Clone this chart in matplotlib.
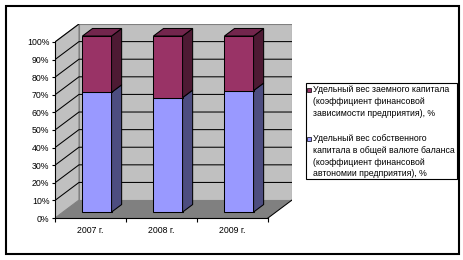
import matplotlib.pyplot as plt
from matplotlib.patches import Polygon, Rectangle

# данные (доли, %)
years = ['2007 г.', '2008 г.', '2009 г.']
own_share = [68, 65, 69]
borrowed_share = [32, 35, 31]
y_ticks = [0, 10, 20, 30, 40, 50, 60, 70, 80, 90, 100]
legend_labels = [
    'Удельный вес заемного капитала\n(коэффициент финансовой\nзависимости предприятия), %',
    'Удельный вес собственного\nкапитала в общей валюте баланса\n(коэффициент финансовой\nавтономии предприятия), %',
]

plt.rcParams['font.family'] = ['Liberation Sans', 'DejaVu Sans']
FS = 6.3

# цвета в стиле Excel
c_own, c_own_side = '#9999FF', '#4D4D80'
c_bor, c_bor_side, c_bor_top = '#993366', '#4D1A33', '#73264D'
c_wall, c_floor, c_edge = '#C0C0C0', '#808080', '#808080'

# псевдо-3D: смещение по глубине в единицах данных
DX, DY = 0.338, 10.2
n = len(years)


def P(x, y, z):
    return (x + z * DX, y + z * DY)


fig = plt.figure(figsize=(4.64, 2.60), dpi=100)
W, H = 464, 260
ax = fig.add_axes([55 / W, 42 / H, 237 / W, 194 / H])
ax.set_xlim(0, n + DX)
ax.set_ylim(0, 100 + DY)
ax.patch.set_alpha(0)


def face(pts, fc, ec='k', lw=0.75, z=3):
    ax.add_patch(Polygon([P(*p) for p in pts], closed=True, fc=fc, ec=ec,
                         lw=lw, zorder=z, joinstyle='miter'))


# стены и пол
face([(0, 0, 0), (0, 0, 1), (0, 100, 1), (0, 100, 0)], c_wall, c_edge, 0.8, 1)
face([(0, 0, 1), (n, 0, 1), (n, 100, 1), (0, 100, 1)], c_wall, c_edge, 0.8, 1)
face([(0, 0, 0), (n, 0, 0), (n, 0, 1), (0, 0, 1)], c_floor, 'none', 0, 1)
xs, ys = zip(P(n, 0, 0), P(n, 0, 1))
ax.plot(xs, ys, color='k', lw=0.75, zorder=2)

# линии сетки
for t in y_ticks[1:]:
    pts = [P(0, t, 0), P(0, t, 1)]
    if t < 100:
        pts.append(P(n, t, 1))
    xs, ys = zip(*pts)
    ax.plot(xs, ys, color='k', lw=0.75, zorder=2)

# столбцы
bw, z0, z1 = 0.41, 0.33, 0.75
for i in range(n):
    x0 = i + 0.5 - bw / 2 - 0.02
    x1 = x0 + bw
    v = own_share[i]
    top = v + borrowed_share[i]
    face([(x0, 0, z0), (x1, 0, z0), (x1, v, z0), (x0, v, z0)], c_own)
    face([(x1, 0, z0), (x1, 0, z1), (x1, v, z1), (x1, v, z0)], c_own_side)
    face([(x0, v, z0), (x1, v, z0), (x1, top, z0), (x0, top, z0)], c_bor)
    face([(x1, v, z0), (x1, v, z1), (x1, top, z1), (x1, top, z0)], c_bor_side)
    face([(x0, top, z0), (x1, top, z0), (x1, top, z1), (x0, top, z1)], c_bor_top)

# оси
for s in ['top', 'right']:
    ax.spines[s].set_visible(False)
ax.spines['left'].set_bounds(0, 100)
ax.spines['bottom'].set_bounds(0, n)
for s in ['left', 'bottom']:
    ax.spines[s].set_linewidth(0.8)
    ax.spines[s].set_zorder(5)
ax.set_yticks(y_ticks)
ax.set_yticklabels([f'{t}%' for t in y_ticks], fontsize=FS)
ax.tick_params(axis='y', length=2, width=0.8, pad=2)
ax.set_xticks(range(n + 1))
ax.set_xticklabels([])
ax.set_xticks([i + 0.5 for i in range(n)], minor=True)
ax.set_xticklabels(years, minor=True, fontsize=FS)
ax.tick_params(axis='x', which='major', length=3, width=0.8, direction='out')
ax.tick_params(axis='x', which='minor', length=0, pad=6)

# легенда
fig.patches.append(Rectangle((306 / W, 1 - 179 / H), 151 / W, 96 / H,
                             transform=fig.transFigure, fc='white', ec='k', lw=0.8))
entries = [(c_bor, legend_labels[0], 90), (c_own, legend_labels[1], 139)]
for col, lab, yc in entries:
    fig.patches.append(Rectangle((307 / W, 1 - (yc + 2) / H), 4 / W, 4 / H,
                                 transform=fig.transFigure, fc=col, ec='k', lw=0.5))
    fig.text(313 / W, 1 - (yc - 5) / H, lab, fontsize=FS, va='top',
             ha='left', linespacing=1.4)

# рамка диаграммы
fig.patches.append(Rectangle((6 / W, 1 - 254 / H), 453 / W, 248 / H,
                             transform=fig.transFigure, fill=False, ec='k', lw=1.5))

fig.savefig('out.png', dpi=100)
